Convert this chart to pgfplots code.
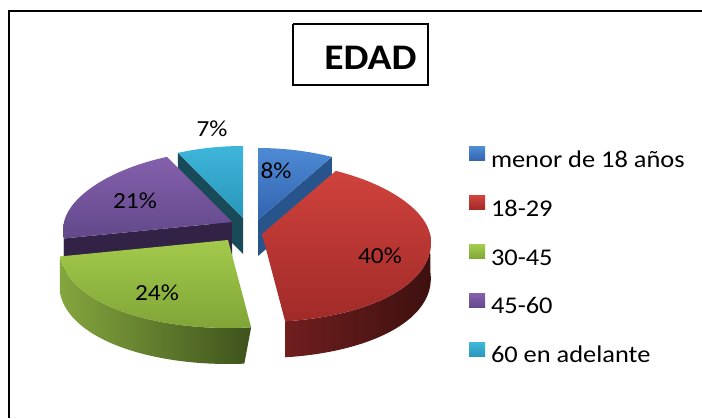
\documentclass[border=0pt]{standalone}
\usepackage{pgfplots}
\pgfplotsset{compat=1.18}
\usepackage{pgfplotstable}
\usepackage{fontspec}
\setmainfont{Carlito}
\newfontfamily\calib[FakeStretch=1.1]{Carlito}
\newcommand\legfont{\calib\fontsize{24}{28}\selectfont}
\newcommand\labfont{\calib\fontsize{23}{27}\selectfont}
\newcommand\titfont{\calib\bfseries\fontsize{36}{40}\selectfont}

\definecolor{blueT}{RGB}{78,138,212}
\definecolor{blueB}{RGB}{50,100,175}
\definecolor{blueF}{RGB}{40,84,140}
\definecolor{redT}{RGB}{208,66,60}
\definecolor{redB}{RGB}{160,42,40}
\definecolor{redWL}{RGB}{112,30,30}
\definecolor{redWR}{RGB}{62,16,16}
\definecolor{greenT}{RGB}{163,202,75}
\definecolor{greenB}{RGB}{128,165,55}
\definecolor{greenWL}{RGB}{132,166,62}
\definecolor{greenWR}{RGB}{62,82,28}
\definecolor{purpT}{RGB}{132,96,172}
\definecolor{purpB}{RGB}{98,72,138}
\definecolor{purpF}{RGB}{50,34,70}
\definecolor{cyanT}{RGB}{62,182,218}
\definecolor{cyanB}{RGB}{40,150,185}
\definecolor{cyanF}{RGB}{24,74,88}

% rim of the (perspective-like) ellipse, angle measured clockwise from 12 o'clock
\pgfmathdeclarefunction{rimx}{2}{\pgfmathparse{#1+168*sin(#2)*(1-0.1*cos(#2))}}
\pgfmathdeclarefunction{rimy}{2}{\pgfmathparse{#1+72*max(cos(#2),0)+88*min(cos(#2),0)}}

\pgfplotstableread[col sep=comma]{
grupo,valor
menor de 18 años,8
18-29,40
30-45,24
45-60,21
60 en adelante,7
}\edad

\begin{document}%
\begin{tikzpicture}
\pgfplotstablegetelem{0}{valor}\of\edad\edef\vA{\pgfplotsretval}
\pgfplotstablegetelem{1}{valor}\of\edad\edef\vB{\pgfplotsretval}
\pgfplotstablegetelem{2}{valor}\of\edad\edef\vC{\pgfplotsretval}
\pgfplotstablegetelem{3}{valor}\of\edad\edef\vD{\pgfplotsretval}
\pgfplotstablegetelem{4}{valor}\of\edad\edef\vE{\pgfplotsretval}
\pgfmathsetmacro\angA{0}
\pgfmathsetmacro\angB{3.6*\vA}
\pgfmathsetmacro\angC{\angB+3.6*\vB}
\pgfmathsetmacro\angD{\angC+3.6*\vC}
\pgfmathsetmacro\angE{\angD+3.6*\vD}
\pgfmathsetmacro\angF{\angE+3.6*\vE}
% cut faces
\pgfmathsetmacro\bfx{rimx(258,\angB)}\pgfmathsetmacro\bfy{rimy(-220,\angB)}\pgfmathsetmacro\bfyd{\bfy-36}
\pgfmathsetmacro\pfx{rimx(232,\angD)}\pgfmathsetmacro\pfy{rimy(-222,\angD)}\pgfmathsetmacro\pfyd{\pfy-36}
\pgfmathsetmacro\cfx{rimx(243,\angE)}\pgfmathsetmacro\cfy{rimy(-218,\angE)}\pgfmathsetmacro\cfyd{\cfy-36}
\begin{axis}[x=1pt,y=1pt,xmin=0,xmax=702,ymin=-418,ymax=0,
  axis lines=none, clip=true,
  legend image code/.code={\path[#1] (0pt,0pt) rectangle (16pt,14pt);},
  legend cell align=left,
  legend style={at={(axis cs:469,-147)}, anchor=north west, draw=none, fill=none,
    inner sep=0pt, outer sep=0pt, row sep=23pt, font=\legfont,
    nodes={inner sep=0pt, text height=18pt, text depth=6pt},
    /tikz/every odd column/.style={column sep=6pt}},
]
\coordinate (bbSW) at (axis cs:0,-418);
\coordinate (bbNE) at (axis cs:702,0);
\addlegendimage{top color=blueT,bottom color=blueB,draw=none}
\addlegendentry{menor de 18 años}
\addlegendimage{top color=redT,bottom color=redB,draw=none}
\addlegendentry{18-29}
\addlegendimage{top color=greenT,bottom color=greenB,draw=none}
\addlegendentry{30-45}
\addlegendimage{top color=purpT,bottom color=purpB,draw=none}
\addlegendentry{45-60}
\addlegendimage{top color=cyanT,bottom color=cyanB,draw=none}
\addlegendentry{60 en adelante}

% frame and title box
\addplot[forget plot,black,line width=2.4pt] coordinates {(9,-440) (9,-11) (720,-11)};
\addplot[forget plot,black,line width=1.6pt] coordinates {(293,-24) (428,-24) (428,-85) (293,-85) (293,-24)};

% cyan slice (60 en adelante)
\addplot[forget plot,draw=none,fill=cyanF] coordinates {(243,-218) (\cfx,\cfy) (\cfx,\cfyd) (243,-254)};
\addplot[forget plot,draw=none,top color=cyanT,bottom color=cyanB,domain=\angE:\angF,samples=30,variable=\t]
  ({rimx(243,\t)},{rimy(-218,\t)}) -- (axis cs:243,-218) -- cycle;
% blue slice (menor de 18)
\addplot[forget plot,draw=none,fill=blueF] coordinates {(258,-220) (\bfx,\bfy) (\bfx,\bfyd) (258,-256)};
\addplot[forget plot,draw=none,top color=blueT,bottom color=blueB,domain=\angA:\angB,samples=30,variable=\t]
  ({rimx(258,\t)},{rimy(-220,\t)}) -- (axis cs:258,-220) -- cycle;
% purple slice (45-60)
\addplot[forget plot,draw=none,fill=purpF] coordinates {(232,-222) (\pfx,\pfy) (\pfx,\pfyd) (232,-258)};
\addplot[forget plot,draw=none,fill=purpF,samples at={0,0.1,...,1,1.0001,1.1,1.2,...,2},variable=\s]
  ({rimx(232,\angD+(270-\angD)*(1-abs(1-\s)))},
   {rimy(-222,\angD+(270-\angD)*(1-abs(1-\s)))-36*min(max((\s-1)*10000,0),1)}) -- cycle;
\addplot[forget plot,draw=none,top color=purpT,bottom color=purpB,domain=\angD:\angE,samples=40,variable=\t]
  ({rimx(232,\t)},{rimy(-222,\t)}) -- (axis cs:232,-222) -- cycle;
% red slice (18-29)
\addplot[forget plot,draw=none,left color=redWL,right color=redWR,samples at={0,0.025,...,1,1.0001,1.025,1.05,...,2},variable=\s]
  ({rimx(262,90+(\angC-90)*(1-abs(1-\s)))},
   {rimy(-234,90+(\angC-90)*(1-abs(1-\s)))-36*min(max((\s-1)*10000,0),1)}) -- cycle;
\addplot[forget plot,draw=none,top color=redT,bottom color=redB,domain=\angB:\angC,samples=60,variable=\t]
  ({rimx(262,\t)},{rimy(-234,\t)}) -- (axis cs:262,-234) -- cycle;
% green slice (30-45)
\addplot[forget plot,draw=none,left color=greenWL,right color=greenWR,samples at={0,0.025,...,1,1.0001,1.025,1.05,...,2},variable=\s]
  ({rimx(228,\angC+(\angD-\angC)*(1-abs(1-\s)))},
   {rimy(-240,\angC+(\angD-\angC)*(1-abs(1-\s)))-36*min(max((\s-1)*10000,0),1)}) -- cycle;
\addplot[forget plot,draw=none,top color=greenT,bottom color=greenB,domain=\angC:\angD,samples=50,variable=\t]
  ({rimx(228,\t)},{rimy(-240,\t)}) -- (axis cs:228,-240) -- cycle;

% labels
\node[font=\titfont,anchor=base] at (axis cs:370.5,-70) {EDAD};
\node[font=\labfont] at (axis cs:276,-171) {\vA\%};
\node[font=\labfont] at (axis cs:380,-256) {\vB\%};
\node[font=\labfont] at (axis cs:157,-293) {\vC\%};
\node[font=\labfont] at (axis cs:135,-201) {\vD\%};
\node[font=\labfont] at (axis cs:212,-129) {\vE\%};
\end{axis}
\pgfresetboundingbox
\useasboundingbox (bbSW) rectangle (bbNE);
\end{tikzpicture}%
\end{document}
